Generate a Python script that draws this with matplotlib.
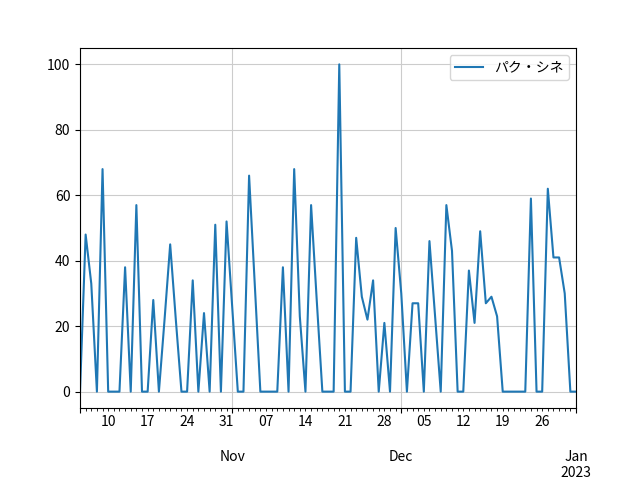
import pandas as pd
import matplotlib
matplotlib.use("Agg")
import matplotlib.pyplot as plt

plt.rcParams["font.family"] = ["Noto Sans CJK JP", "DejaVu Sans"]

# daily values, 2022-10-05 .. 2023-01-01
start_date = "2022-10-05"
end_date = "2023-01-01"
label = "パク・シネ"

oct_vals = [0, 48, 33, 0, 68, 0, 0, 0, 38, 0, 57, 0, 0, 28, 0, 22, 45, 22,
            0, 0, 34, 0, 24, 0, 51, 0, 52]
nov_vals = [26, 0, 0, 66, 33, 0, 0, 0, 0, 38, 0, 68, 23, 0, 57, 28, 0, 0,
            0, 100, 0, 0, 47, 29, 22, 34, 0, 21, 0, 50]
dec_vals = [30, 0, 27, 27, 0, 46, 23, 0, 57, 43, 0, 0, 37, 21, 49, 27, 29,
            23, 0, 0, 0, 0, 0, 59, 0, 0, 62, 41, 41, 30, 0]
jan_vals = [0]

dates = pd.date_range(start_date, end_date, freq="D")
values = oct_vals + nov_vals + dec_vals + jan_vals
s = pd.Series(values, index=dates, name=label)

fig, ax = plt.subplots(figsize=(6.4, 4.8), dpi=100)
s.plot(ax=ax, color="#1f77b4", label=label)
ax.grid(True, color="#cccccc")
ax.legend(loc="upper right")
ax.set_xlabel("")
fig.subplots_adjust(left=0.125, right=0.9, bottom=0.15, top=0.9)
fig.savefig("out.png")
